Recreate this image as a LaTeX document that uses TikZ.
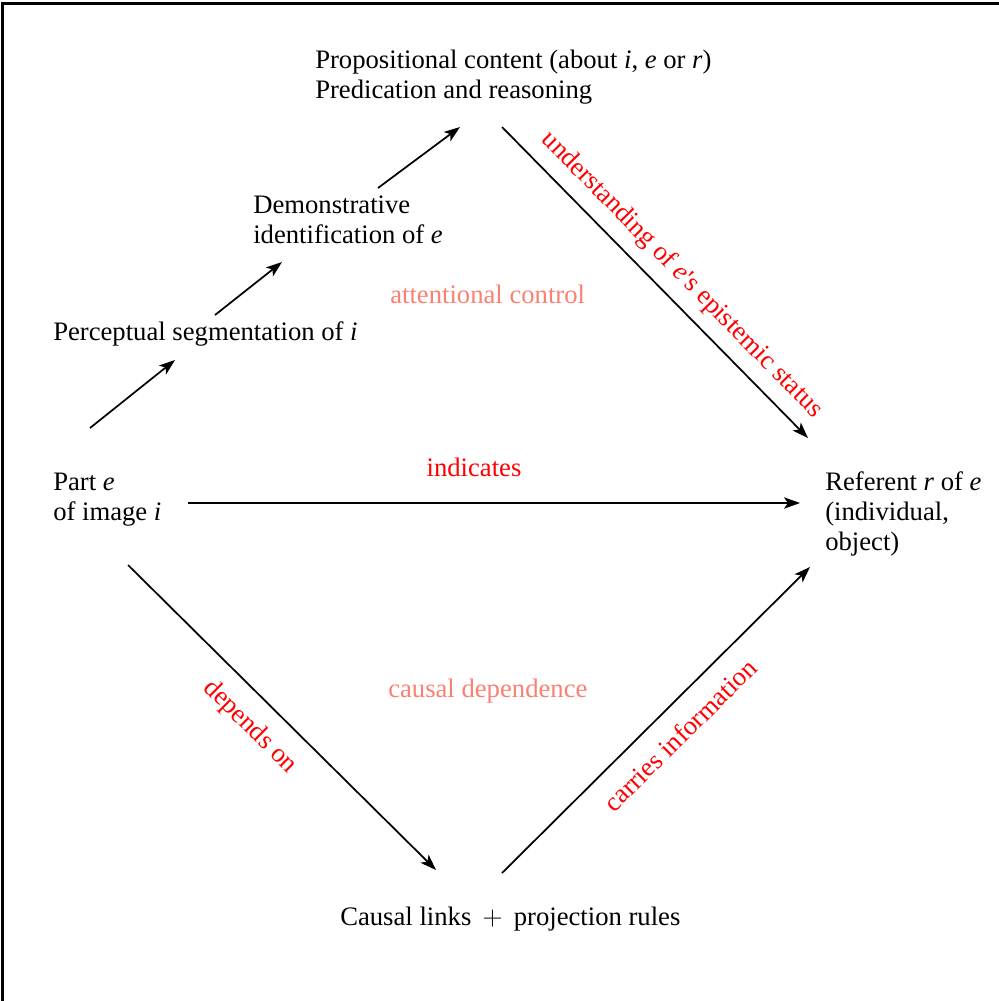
\documentclass[tikz,border=0pt]{standalone}
\usepackage{fontspec}
\setmainfont{Liberation Serif}
\newfontfamily\tnr{Liberation Serif}
\usetikzlibrary{arrows.meta}
\definecolor{salmonc}{RGB}{250,128,114}
\begin{document}
\begin{tikzpicture}[x=0.75pt,y=-0.75pt,
  txt/.style={anchor=base west,inner sep=0pt,align=left,font=\tnr\fontsize{20}{22.5}\selectfont},
  lbl/.style={inner sep=0pt,font=\tnr\fontsize{20}{22.5}\selectfont,text=red},
  area/.style={anchor=base west,inner sep=0pt,font=\tnr\fontsize{20}{22.5}\selectfont,text=salmonc},
  arr/.style={-{Stealth[length=12pt,width=8.5pt,inset=3pt]},line width=1.3pt}]
\useasboundingbox (0,0) rectangle (999,1001);
\draw[line width=2.25pt] (2.5,1001) -- (2.5,3.5) -- (999,3.5);
% nodes (anchor = baseline of last line)
\node[txt] (prop) at (315,98) {Propositional content (about \textit{i}, \textit{e} or \textit{r})\\Predication and reasoning};
\node[txt] (demo) at (253,243) {Demonstrative\\identification of \textit{e}};
\node[txt] (perc) at (53,340) {Perceptual segmentation of \textit{i}};
\node[txt] (part) at (53,520) {Part \textit{e}\\of image \textit{i}};
\node[txt] (ref) at (825,550) {Referent \textit{r} of \textit{e}\\(individual,\\object)};
\node[txt] (caus) at (340,925) {Causal links $\,+\,$ projection rules};
\node[area] (att) at (390,303) {attentional control};
\node[area] (cdep) at (388,697) {causal dependence};
% connector ends
\coordinate (a1) at (90,428);  \coordinate (a2) at (175,360);
\coordinate (b1) at (215,315); \coordinate (b2) at (282,262);
\coordinate (c1) at (378,188); \coordinate (c2) at (460,127);
\coordinate (d1) at (502,127); \coordinate (d2) at (808,438);
\coordinate (e1) at (188,503); \coordinate (e2) at (800,503);
\coordinate (f1) at (128,565); \coordinate (f2) at (436,870);
\coordinate (g1) at (502,873); \coordinate (g2) at (810,567);
\draw[arr] (a1) -- (a2);
\draw[arr] (b1) -- (b2);
\draw[arr] (c1) -- (c2);
\draw[arr] (d1) -- (d2);
\draw[arr] (e1) -- (e2);
\draw[arr] (f1) -- (f2);
\draw[arr] (g1) -- (g2);
% labels
\node[lbl,rotate=-45.5] (lu) at (682,275) {understanding of \textit{e}'s epistemic status};
\node[lbl,anchor=base] (li) at (474,476) {indicates};
\node[lbl,rotate=-44.7] (ld) at (250,727) {depends on};
\node[lbl,rotate=44.8] (lc) at (680,735) {carries information};
\end{tikzpicture}
\end{document}
